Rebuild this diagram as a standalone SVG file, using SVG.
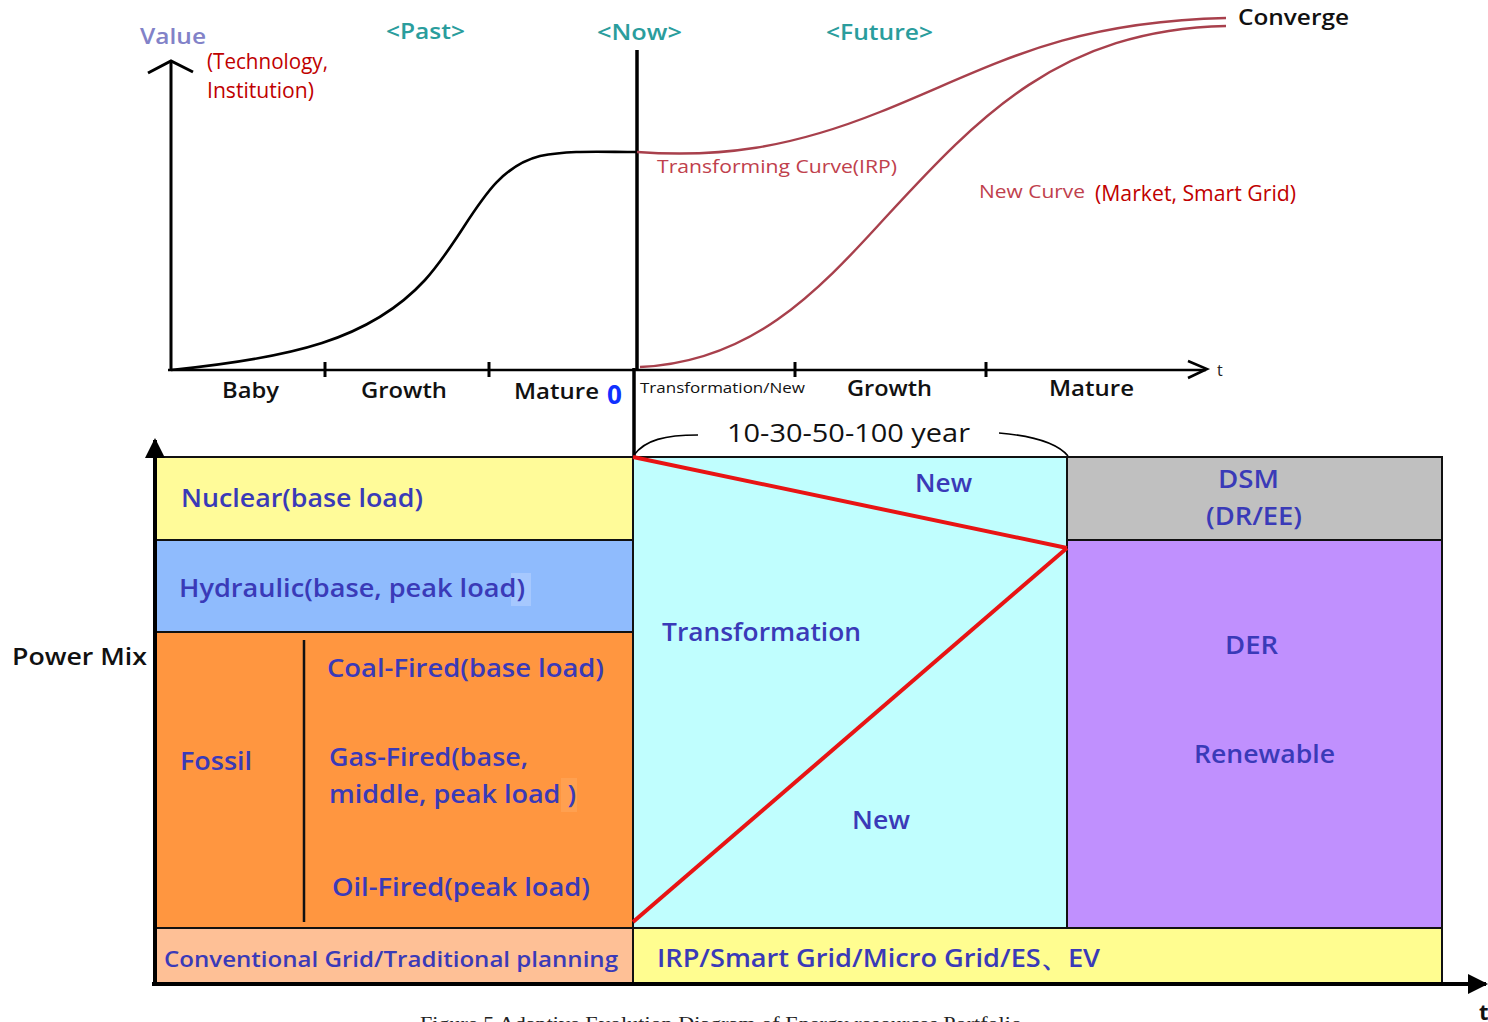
<svg xmlns="http://www.w3.org/2000/svg" width="1488" height="1022" viewBox="0 0 1488 1022">
  <style>
    text { font-family: "Open Sans", "Noto Sans", "DejaVu Sans", sans-serif; }
    .ax { stroke: #000; fill: none; }
    .lbl { font-size: 22px; fill: #111; font-weight: 600; }
    .era { font-size: 21px; fill: #2a9d9d; font-weight: 600; }
    .red { fill: #c00000; font-size: 21px; }
    .curve { stroke: #a8404c; stroke-width: 2.4; fill: none; }
    .cell { stroke: #111; stroke-width: 2; }
    .bt { font-size: 25px; fill: #3a3ab8; font-weight: 600; }
    .cap { font-family: "Liberation Serif", "Times New Roman", serif; font-size: 19px; fill: #222; }
  </style>
  <defs>
    <marker id="head" viewBox="0 0 10 10" refX="9" refY="5" markerWidth="5" markerHeight="5" orient="auto">
      <path d="M0,0 L10,5 L0,10 z" fill="#000"/>
    </marker>
  </defs>

  <rect width="1488" height="1022" fill="#fff"/>

  <!-- Value-over-time chart -->
  <g id="value-chart">
    <line class="ax" x1="171" y1="371" x2="171" y2="62" stroke-width="3"/>
    <polyline class="ax" points="148,73 171,61 193,72" stroke-width="3"/>
    <line class="ax" x1="168" y1="370" x2="1206" y2="370" stroke-width="2.5"/>
    <polyline class="ax" points="1188,361 1207,369 1188,378" stroke-width="2.5"/>
    <line class="ax" x1="325" y1="362" x2="325" y2="377" stroke-width="3"/>
    <line class="ax" x1="489" y1="362" x2="489" y2="377" stroke-width="3"/>
    <line class="ax" x1="795" y1="362" x2="795" y2="377" stroke-width="3"/>
    <line class="ax" x1="986" y1="362" x2="986" y2="377" stroke-width="3"/>
    <line class="ax" x1="637" y1="50" x2="637" y2="370" stroke-width="3.5"/>
    <line class="ax" x1="634" y1="368" x2="634" y2="458" stroke-width="3.5"/>
    <path class="ax" stroke-width="2.6" d="M171,370 C 290,358 370,340 425,280 C 470,230 485,170 540,156 C 570,150 600,152 637,152"/>
    <path class="curve" d="M637,152 C 720,158 790,148 880,112 C 990,68 1060,22 1226,18"/>
    <path class="curve" d="M640,367 C 750,362 815,295 885,218 C 980,115 1060,30 1226,26"/>
    <text x="140" y="44" font-size="21" fill="#8282c8" font-weight="600" textLength="66" lengthAdjust="spacingAndGlyphs">Value</text>
    <text class="red" x="207" y="69" textLength="121" lengthAdjust="spacingAndGlyphs">(Technology,</text>
    <text class="red" x="207" y="98" textLength="107" lengthAdjust="spacingAndGlyphs">Institution)</text>
    <text class="era" x="386" y="39" textLength="79" lengthAdjust="spacingAndGlyphs">&lt;Past&gt;</text>
    <text class="era" x="597" y="40" textLength="85" lengthAdjust="spacingAndGlyphs">&lt;Now&gt;</text>
    <text class="era" x="826" y="40" textLength="107" lengthAdjust="spacingAndGlyphs">&lt;Future&gt;</text>
    <text x="1238" y="25" font-size="22" fill="#111" font-weight="600" textLength="111" lengthAdjust="spacingAndGlyphs">Converge</text>
    <text x="657" y="173" font-size="19" fill="#c0404c" textLength="240" lengthAdjust="spacingAndGlyphs">Transforming Curve(IRP)</text>
    <text x="979" y="198" font-size="19" fill="#c0404c" textLength="106" lengthAdjust="spacingAndGlyphs">New Curve</text>
    <text class="red" x="1095" y="201" textLength="201" lengthAdjust="spacingAndGlyphs">(Market, Smart Grid)</text>
    <text x="1217" y="376" font-size="16" fill="#222">t</text>
    <text class="lbl" x="222" y="398" textLength="57" lengthAdjust="spacingAndGlyphs">Baby</text>
    <text class="lbl" x="361" y="398" textLength="86" lengthAdjust="spacingAndGlyphs">Growth</text>
    <text class="lbl" x="514" y="399" textLength="85" lengthAdjust="spacingAndGlyphs">Mature</text>
    <text x="607" y="404" font-size="26" fill="#1030ff" font-weight="bold">0</text>
    <text x="640" y="393" font-size="15" fill="#111" textLength="165" lengthAdjust="spacingAndGlyphs">Transformation/New</text>
    <text class="lbl" x="847" y="396" textLength="85" lengthAdjust="spacingAndGlyphs">Growth</text>
    <text class="lbl" x="1049" y="396" textLength="85" lengthAdjust="spacingAndGlyphs">Mature</text>
    <text x="727" y="442" font-size="25" fill="#111" textLength="243" lengthAdjust="spacingAndGlyphs">10-30-50-100 year</text>
    <path class="ax" stroke-width="1.6" d="M634,455 C 645,440 665,435 698,435"/>
    <path class="ax" stroke-width="1.6" d="M999,433 C 1035,436 1058,444 1068,456"/>
  </g>

  <!-- Power mix table -->
  <g id="power-mix">
    <rect class="cell" x="155" y="457" width="478" height="83" fill="#fffb99"/>
    <rect class="cell" x="155" y="540" width="478" height="92" fill="#8fbbfd"/>
    <rect class="cell" x="155" y="632" width="478" height="296" fill="#ff9640"/>
    <rect class="cell" x="155" y="928" width="478" height="56" fill="#fec096"/>
    <rect class="cell" x="633" y="457" width="434" height="471" fill="#c0fefe"/>
    <rect class="cell" x="1067" y="457" width="375" height="83" fill="#c0c0c0"/>
    <rect class="cell" x="1067" y="540" width="375" height="388" fill="#c090fe"/>
    <rect class="cell" x="633" y="928" width="809" height="56" fill="#fffd90"/>
    <line x1="304" y1="640" x2="304" y2="922" stroke="#111" stroke-width="2.5"/>
    <rect x="511" y="573" width="20" height="33" fill="#a6c8fe"/>
    <rect x="561" y="778" width="16" height="34" fill="#ffa050"/>
  </g>

  <!-- Transition lines and axes -->
  <g id="connectors">
    <line x1="633" y1="457" x2="1067" y2="548" stroke="#e81414" stroke-width="4"/>
    <line x1="633" y1="922" x2="1067" y2="548" stroke="#e81414" stroke-width="4"/>
    <line class="ax" x1="155" y1="986" x2="155" y2="440" stroke-width="4" marker-end="url(#head)"/>
    <line class="ax" x1="152" y1="984" x2="1486" y2="984" stroke-width="4" marker-end="url(#head)"/>
  </g>

  <g id="labels">
    <text x="12" y="665" font-size="24" fill="#111" font-weight="600" textLength="135" lengthAdjust="spacingAndGlyphs">Power Mix</text>
    <text class="bt" x="181" y="507" textLength="242" lengthAdjust="spacingAndGlyphs">Nuclear(base load)</text>
    <text class="bt" x="179" y="597" textLength="346" lengthAdjust="spacingAndGlyphs">Hydraulic(base, peak load)</text>
    <text class="bt" x="180" y="770" textLength="72" lengthAdjust="spacingAndGlyphs">Fossil</text>
    <text class="bt" x="327" y="677" textLength="277" lengthAdjust="spacingAndGlyphs">Coal-Fired(base load)</text>
    <text class="bt" x="329" y="766" textLength="199" lengthAdjust="spacingAndGlyphs">Gas-Fired(base,</text>
    <text class="bt" x="329" y="803" textLength="247" lengthAdjust="spacingAndGlyphs">middle, peak load )</text>
    <text class="bt" x="332" y="896" textLength="258" lengthAdjust="spacingAndGlyphs">Oil-Fired(peak load)</text>
    <text class="bt" x="164" y="967" style="font-size:22px" textLength="454" lengthAdjust="spacingAndGlyphs">Conventional Grid/Traditional planning</text>
    <text class="bt" x="657" y="967" textLength="443" lengthAdjust="spacingAndGlyphs">IRP/Smart Grid/Micro Grid/ES、EV</text>
    <text class="bt" x="915" y="492" textLength="57" lengthAdjust="spacingAndGlyphs">New</text>
    <text class="bt" x="662" y="641" textLength="199" lengthAdjust="spacingAndGlyphs">Transformation</text>
    <text class="bt" x="852" y="829" textLength="58" lengthAdjust="spacingAndGlyphs">New</text>
    <text class="bt" x="1218" y="488" textLength="61" lengthAdjust="spacingAndGlyphs">DSM</text>
    <text class="bt" x="1206" y="525" textLength="96" lengthAdjust="spacingAndGlyphs">(DR/EE)</text>
    <text class="bt" x="1225" y="654" textLength="53" lengthAdjust="spacingAndGlyphs">DER</text>
    <text class="bt" x="1194" y="763" textLength="141" lengthAdjust="spacingAndGlyphs">Renewable</text>
    <text x="1479" y="1020" font-size="22" fill="#111" font-weight="bold">t</text>
    <text class="cap" x="420" y="1030" textLength="602" lengthAdjust="spacingAndGlyphs">Figure 5    Adaptive Evolution Diagram of Energy resources Portfolio</text>
  </g>
</svg>
